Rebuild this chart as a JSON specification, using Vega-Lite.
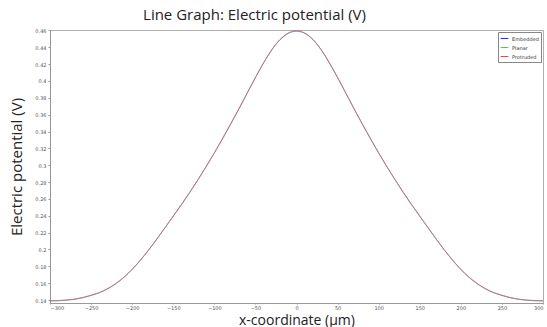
{
  "$schema": "https://vega.github.io/schema/vega-lite/v6.json",
  "width": 493,
  "height": 273,
  "autosize": {"type": "none"},
  "padding": {"left": 50, "top": 30, "right": 4, "bottom": 24},
  "background": "white",
  "title": {"text": "Line Graph: Electric potential (V)", "font": "Open Sans", "fontSize": 15, "fontWeight": "normal", "color": "#222222", "anchor": "middle", "dx": -42, "offset": 5},
  "config": {
    "view": {"stroke": "#b0b0b0", "strokeWidth": 1},
    "axis": {"grid": false, "labelFont": "DejaVu Sans", "labelFontSize": 5, "labelColor": "#555555", "tickColor": "#999999", "tickSize": 2, "domainColor": "#999999", "titleFont": "Open Sans", "titleFontWeight": "normal", "titleFontSize": 15, "titleColor": "#222222"}
  },
  "data": {"values": [
    {"x": -300, "y": 0.1390, "s": "Embedded"}, {"x": -290, "y": 0.1392, "s": "Embedded"}, {"x": -280, "y": 0.1398, "s": "Embedded"}, {"x": -270, "y": 0.1409, "s": "Embedded"}, {"x": -260, "y": 0.1428, "s": "Embedded"}, {"x": -250, "y": 0.1455, "s": "Embedded"}, {"x": -240, "y": 0.1487, "s": "Embedded"}, {"x": -230, "y": 0.1533, "s": "Embedded"}, {"x": -220, "y": 0.1593, "s": "Embedded"}, {"x": -210, "y": 0.1669, "s": "Embedded"}, {"x": -200, "y": 0.1763, "s": "Embedded"}, {"x": -190, "y": 0.1872, "s": "Embedded"}, {"x": -180, "y": 0.1993, "s": "Embedded"}, {"x": -170, "y": 0.2123, "s": "Embedded"}, {"x": -160, "y": 0.2258, "s": "Embedded"}, {"x": -150, "y": 0.2395, "s": "Embedded"}, {"x": -140, "y": 0.2532, "s": "Embedded"}, {"x": -130, "y": 0.2676, "s": "Embedded"}, {"x": -120, "y": 0.2826, "s": "Embedded"}, {"x": -110, "y": 0.2982, "s": "Embedded"}, {"x": -100, "y": 0.3145, "s": "Embedded"}, {"x": -90, "y": 0.3315, "s": "Embedded"}, {"x": -80, "y": 0.3490, "s": "Embedded"}, {"x": -70, "y": 0.3670, "s": "Embedded"}, {"x": -60, "y": 0.3855, "s": "Embedded"}, {"x": -50, "y": 0.4040, "s": "Embedded"}, {"x": -40, "y": 0.4215, "s": "Embedded"}, {"x": -30, "y": 0.4370, "s": "Embedded"}, {"x": -20, "y": 0.4490, "s": "Embedded"}, {"x": -10, "y": 0.4565, "s": "Embedded"}, {"x": 0, "y": 0.4590, "s": "Embedded"}, {"x": 10, "y": 0.4565, "s": "Embedded"}, {"x": 20, "y": 0.4490, "s": "Embedded"}, {"x": 30, "y": 0.4370, "s": "Embedded"}, {"x": 40, "y": 0.4215, "s": "Embedded"}, {"x": 50, "y": 0.4040, "s": "Embedded"}, {"x": 60, "y": 0.3855, "s": "Embedded"}, {"x": 70, "y": 0.3670, "s": "Embedded"}, {"x": 80, "y": 0.3490, "s": "Embedded"}, {"x": 90, "y": 0.3315, "s": "Embedded"}, {"x": 100, "y": 0.3145, "s": "Embedded"}, {"x": 110, "y": 0.2982, "s": "Embedded"}, {"x": 120, "y": 0.2826, "s": "Embedded"}, {"x": 130, "y": 0.2676, "s": "Embedded"}, {"x": 140, "y": 0.2532, "s": "Embedded"}, {"x": 150, "y": 0.2395, "s": "Embedded"}, {"x": 160, "y": 0.2258, "s": "Embedded"}, {"x": 170, "y": 0.2123, "s": "Embedded"}, {"x": 180, "y": 0.1993, "s": "Embedded"}, {"x": 190, "y": 0.1872, "s": "Embedded"}, {"x": 200, "y": 0.1763, "s": "Embedded"}, {"x": 210, "y": 0.1669, "s": "Embedded"}, {"x": 220, "y": 0.1593, "s": "Embedded"}, {"x": 230, "y": 0.1533, "s": "Embedded"}, {"x": 240, "y": 0.1487, "s": "Embedded"}, {"x": 250, "y": 0.1455, "s": "Embedded"}, {"x": 260, "y": 0.1428, "s": "Embedded"}, {"x": 270, "y": 0.1409, "s": "Embedded"}, {"x": 280, "y": 0.1398, "s": "Embedded"}, {"x": 290, "y": 0.1392, "s": "Embedded"}, {"x": 300, "y": 0.1390, "s": "Embedded"},
    {"x": -300, "y": 0.1390, "s": "Planar"}, {"x": -290, "y": 0.1392, "s": "Planar"}, {"x": -280, "y": 0.1398, "s": "Planar"}, {"x": -270, "y": 0.1409, "s": "Planar"}, {"x": -260, "y": 0.1428, "s": "Planar"}, {"x": -250, "y": 0.1455, "s": "Planar"}, {"x": -240, "y": 0.1487, "s": "Planar"}, {"x": -230, "y": 0.1533, "s": "Planar"}, {"x": -220, "y": 0.1593, "s": "Planar"}, {"x": -210, "y": 0.1669, "s": "Planar"}, {"x": -200, "y": 0.1763, "s": "Planar"}, {"x": -190, "y": 0.1872, "s": "Planar"}, {"x": -180, "y": 0.1993, "s": "Planar"}, {"x": -170, "y": 0.2123, "s": "Planar"}, {"x": -160, "y": 0.2258, "s": "Planar"}, {"x": -150, "y": 0.2395, "s": "Planar"}, {"x": -140, "y": 0.2532, "s": "Planar"}, {"x": -130, "y": 0.2676, "s": "Planar"}, {"x": -120, "y": 0.2826, "s": "Planar"}, {"x": -110, "y": 0.2982, "s": "Planar"}, {"x": -100, "y": 0.3145, "s": "Planar"}, {"x": -90, "y": 0.3315, "s": "Planar"}, {"x": -80, "y": 0.3490, "s": "Planar"}, {"x": -70, "y": 0.3670, "s": "Planar"}, {"x": -60, "y": 0.3855, "s": "Planar"}, {"x": -50, "y": 0.4040, "s": "Planar"}, {"x": -40, "y": 0.4215, "s": "Planar"}, {"x": -30, "y": 0.4370, "s": "Planar"}, {"x": -20, "y": 0.4491, "s": "Planar"}, {"x": -10, "y": 0.4567, "s": "Planar"}, {"x": 0, "y": 0.4593, "s": "Planar"}, {"x": 10, "y": 0.4567, "s": "Planar"}, {"x": 20, "y": 0.4491, "s": "Planar"}, {"x": 30, "y": 0.4370, "s": "Planar"}, {"x": 40, "y": 0.4215, "s": "Planar"}, {"x": 50, "y": 0.4040, "s": "Planar"}, {"x": 60, "y": 0.3855, "s": "Planar"}, {"x": 70, "y": 0.3670, "s": "Planar"}, {"x": 80, "y": 0.3490, "s": "Planar"}, {"x": 90, "y": 0.3315, "s": "Planar"}, {"x": 100, "y": 0.3145, "s": "Planar"}, {"x": 110, "y": 0.2982, "s": "Planar"}, {"x": 120, "y": 0.2826, "s": "Planar"}, {"x": 130, "y": 0.2676, "s": "Planar"}, {"x": 140, "y": 0.2532, "s": "Planar"}, {"x": 150, "y": 0.2395, "s": "Planar"}, {"x": 160, "y": 0.2258, "s": "Planar"}, {"x": 170, "y": 0.2123, "s": "Planar"}, {"x": 180, "y": 0.1993, "s": "Planar"}, {"x": 190, "y": 0.1872, "s": "Planar"}, {"x": 200, "y": 0.1763, "s": "Planar"}, {"x": 210, "y": 0.1669, "s": "Planar"}, {"x": 220, "y": 0.1593, "s": "Planar"}, {"x": 230, "y": 0.1533, "s": "Planar"}, {"x": 240, "y": 0.1487, "s": "Planar"}, {"x": 250, "y": 0.1455, "s": "Planar"}, {"x": 260, "y": 0.1428, "s": "Planar"}, {"x": 270, "y": 0.1409, "s": "Planar"}, {"x": 280, "y": 0.1398, "s": "Planar"}, {"x": 290, "y": 0.1392, "s": "Planar"}, {"x": 300, "y": 0.1390, "s": "Planar"},
    {"x": -300, "y": 0.1393, "s": "Protruded"}, {"x": -290, "y": 0.1395, "s": "Protruded"}, {"x": -280, "y": 0.1401, "s": "Protruded"}, {"x": -270, "y": 0.1412, "s": "Protruded"}, {"x": -260, "y": 0.1431, "s": "Protruded"}, {"x": -250, "y": 0.1458, "s": "Protruded"}, {"x": -240, "y": 0.1490, "s": "Protruded"}, {"x": -230, "y": 0.1536, "s": "Protruded"}, {"x": -220, "y": 0.1596, "s": "Protruded"}, {"x": -210, "y": 0.1672, "s": "Protruded"}, {"x": -200, "y": 0.1766, "s": "Protruded"}, {"x": -190, "y": 0.1875, "s": "Protruded"}, {"x": -180, "y": 0.1996, "s": "Protruded"}, {"x": -170, "y": 0.2126, "s": "Protruded"}, {"x": -160, "y": 0.2261, "s": "Protruded"}, {"x": -150, "y": 0.2398, "s": "Protruded"}, {"x": -140, "y": 0.2535, "s": "Protruded"}, {"x": -130, "y": 0.2679, "s": "Protruded"}, {"x": -120, "y": 0.2829, "s": "Protruded"}, {"x": -110, "y": 0.2985, "s": "Protruded"}, {"x": -100, "y": 0.3148, "s": "Protruded"}, {"x": -90, "y": 0.3318, "s": "Protruded"}, {"x": -80, "y": 0.3493, "s": "Protruded"}, {"x": -70, "y": 0.3673, "s": "Protruded"}, {"x": -60, "y": 0.3858, "s": "Protruded"}, {"x": -50, "y": 0.4043, "s": "Protruded"}, {"x": -40, "y": 0.4218, "s": "Protruded"}, {"x": -30, "y": 0.4373, "s": "Protruded"}, {"x": -20, "y": 0.4494, "s": "Protruded"}, {"x": -10, "y": 0.4570, "s": "Protruded"}, {"x": 0, "y": 0.4596, "s": "Protruded"}, {"x": 10, "y": 0.4570, "s": "Protruded"}, {"x": 20, "y": 0.4494, "s": "Protruded"}, {"x": 30, "y": 0.4373, "s": "Protruded"}, {"x": 40, "y": 0.4218, "s": "Protruded"}, {"x": 50, "y": 0.4043, "s": "Protruded"}, {"x": 60, "y": 0.3858, "s": "Protruded"}, {"x": 70, "y": 0.3673, "s": "Protruded"}, {"x": 80, "y": 0.3493, "s": "Protruded"}, {"x": 90, "y": 0.3318, "s": "Protruded"}, {"x": 100, "y": 0.3148, "s": "Protruded"}, {"x": 110, "y": 0.2985, "s": "Protruded"}, {"x": 120, "y": 0.2829, "s": "Protruded"}, {"x": 130, "y": 0.2679, "s": "Protruded"}, {"x": 140, "y": 0.2535, "s": "Protruded"}, {"x": 150, "y": 0.2398, "s": "Protruded"}, {"x": 160, "y": 0.2261, "s": "Protruded"}, {"x": 170, "y": 0.2126, "s": "Protruded"}, {"x": 180, "y": 0.1996, "s": "Protruded"}, {"x": 190, "y": 0.1875, "s": "Protruded"}, {"x": 200, "y": 0.1766, "s": "Protruded"}, {"x": 210, "y": 0.1672, "s": "Protruded"}, {"x": 220, "y": 0.1596, "s": "Protruded"}, {"x": 230, "y": 0.1536, "s": "Protruded"}, {"x": 240, "y": 0.1490, "s": "Protruded"}, {"x": 250, "y": 0.1458, "s": "Protruded"}, {"x": 260, "y": 0.1431, "s": "Protruded"}, {"x": 270, "y": 0.1412, "s": "Protruded"}, {"x": 280, "y": 0.1401, "s": "Protruded"}, {"x": 290, "y": 0.1395, "s": "Protruded"}, {"x": 300, "y": 0.1393, "s": "Protruded"}
  ]},
  "mark": {"type": "line", "interpolate": "monotone", "strokeWidth": 1, "opacity": 0.5},
  "encoding": {
    "x": {"field": "x", "type": "quantitative", "scale": {"domain": [-300, 300], "nice": false}, "axis": {"values": [-300, -250, -200, -150, -100, -50, 0, 50, 100, 150, 200, 250, 300], "title": "x-coordinate (µm)", "titleFontSize": 14, "titleBaseline": "alphabetic", "titleY": 21, "tickSize": 1, "labelPadding": 1}},
    "y": {"field": "y", "type": "quantitative", "scale": {"domain": [0.1365, 0.4605], "nice": false, "zero": false}, "axis": {"values": [0.14, 0.16, 0.18, 0.2, 0.22, 0.24, 0.26, 0.28, 0.3, 0.32, 0.34, 0.36, 0.38, 0.4, 0.42, 0.44, 0.46], "format": "~g", "title": "Electric potential (V)", "titlePadding": 10, "labelPadding": 2}},
    "color": {"field": "s", "type": "nominal", "sort": ["Embedded", "Planar", "Protruded"], "scale": {"domain": ["Embedded", "Planar", "Protruded"], "range": ["#2a2aff", "#60c060", "#ff4040"]},
      "legend": {"title": null, "orient": "top-right", "offset": 2, "symbolType": "stroke", "symbolSize": 60, "symbolStrokeWidth": 1, "symbolOpacity": 1, "labelFontSize": 5, "labelFont": "DejaVu Sans", "labelColor": "#333333", "rowPadding": 1, "padding": 2, "strokeColor": "#888888", "fillColor": "white", "labelOffset": 3}}
  }
}
